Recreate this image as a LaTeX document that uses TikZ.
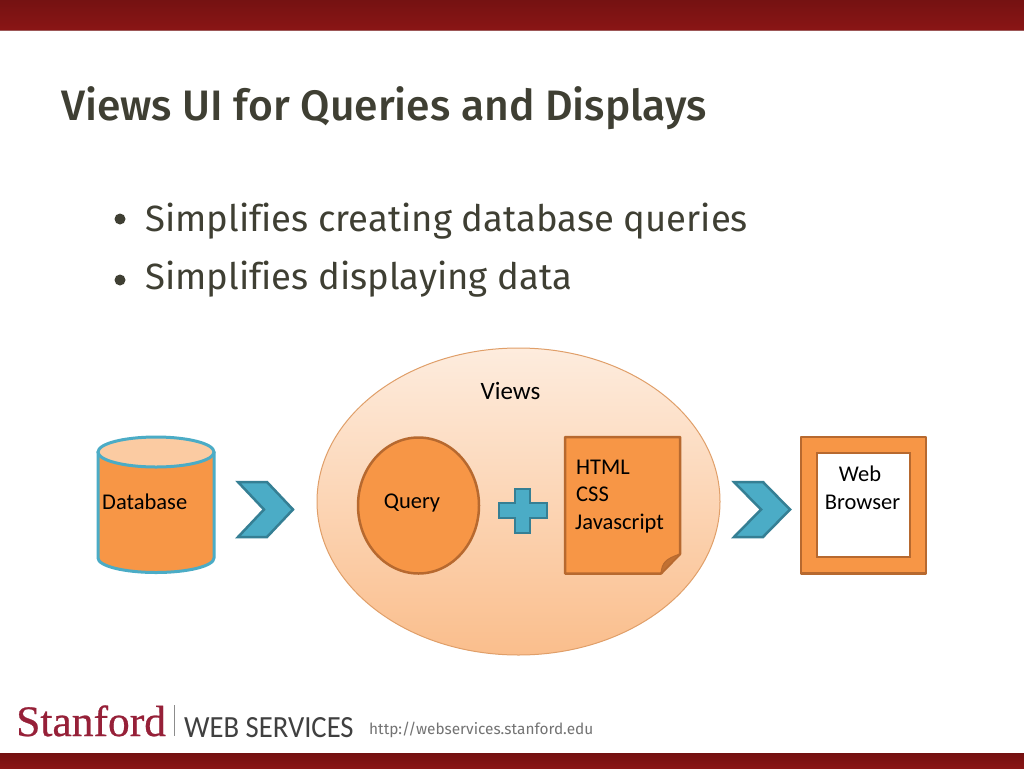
\documentclass[tikz,border=0pt]{standalone}
\usepackage{fontspec}
\setmainfont{Carlito}
\newfontfamily\titlefont{Fira Sans Medium}
\newfontfamily\bodyfont[Ligatures=NoCommon]{Fira Sans}
\newfontfamily\logofont[FakeBold=0.6,FakeStretch=1.0]{Liberation Serif}
\newfontfamily\wsfont[FakeStretch=0.93]{Carlito}
\usetikzlibrary{shadings}
\definecolor{barred}{HTML}{8A1515}
\definecolor{bardark}{HTML}{731010}
\definecolor{titlecol}{HTML}{3F3F33}
\definecolor{orangef}{HTML}{F79646}
\definecolor{oranged}{HTML}{B7692F}
\definecolor{teal}{HTML}{4BACC6}
\definecolor{teald}{HTML}{357F94}
\definecolor{cardinal}{HTML}{962038}
\tikzset{
  x=1pt,y=-1pt,
  lbl/.style={font=\fontsize{22.5}{27}\selectfont,text=black,inner sep=0pt},
  bodytext/.style={font=\bodyfont\fontsize{36.5}{40}\selectfont,text=titlecol,anchor=base west,inner sep=0pt},
  orangebox/.style={fill=orangef,draw=oranged,line width=2.5pt,line join=round},
  chev/.style={fill=teal,draw=teald,line width=2.5pt,line join=miter},
}
\begin{document}
\begin{tikzpicture}
\useasboundingbox (0,0) rectangle (1024,768);
\fill[white] (0,0) rectangle (1024,768);
% bars
\shade[top color=barred!85!black,bottom color=barred] (0,0) rectangle (1024,30);
\fill[bardark!70!white] (0,30) rectangle (1024,31);
\shade[top color=bardark,bottom color=barred] (0,753) rectangle (1024,768);
% title and bullets
\node[font=\titlefont\fontsize{42.6}{48}\selectfont,text=titlecol,anchor=base west,inner sep=0pt] (title) at (61,120) {Views UI for Queries and Displays};
\node[bodytext] (b1) at (145,231) {Simplifies creating database queries};
\node[bodytext] (b2) at (145,289) {Simplifies displaying data};
\fill[titlecol] (120,219) circle (5.5);
\fill[titlecol] (120,280) circle (5.5);
% views ellipse
\path[top color=orangef!18!white,bottom color=orangef!62!white,draw=orangef!75!white!90!black,line width=1pt]
  (518.5,501.5) ellipse [x radius=201.5,y radius=153.5];
\node[lbl,font=\fontsize{25}{27}\selectfont] (views) at (510.5,391) {Views};
% database
\path[orangebox,draw=teal,line width=3pt]
  (98,452) -- (98,558) arc[start angle=180,end angle=0,x radius=58,y radius=14.5] -- (214,452) -- cycle;
\path[fill=orangef!50!white,draw=teal,line width=3pt] (156,452) ellipse [x radius=58,y radius=15];
\node[lbl,anchor=base west] (db) at (102,509) {Database};
% chevrons
\path[chev] (238,482) -- (267,482) -- (293,509.5) -- (267,537) -- (238,537) -- (264,509.5) -- cycle;
\path[chev] (734,482) -- (763,482) -- (790,509.5) -- (763,537) -- (734,537) -- (761,509.5) -- cycle;
% query
\path[orangebox] (418.5,505.5) ellipse [x radius=60.5,y radius=68];
\node[lbl] (query) at (412,503) {Query};
% plus
\path[chev] (515,489) -- (530,489) -- (530,503) -- (547,503) -- (547,518) -- (530,518) -- (530,533) -- (515,533) -- (515,518) -- (499,518) -- (499,503) -- (515,503) -- cycle;
% note
\path[orangebox] (565,437) -- (680,437) -- (680,554) -- (661,573.5) -- (565,573.5) -- cycle;
\path[fill=oranged!85!orangef,draw=oranged,line width=1pt,line join=round] (661,573.5) .. controls (662,563) and (665,559) .. (680,554) -- cycle;
\node[lbl,anchor=base west] (n1) at (576,474) {HTML};
\node[lbl,anchor=base west] (n2) at (576,501) {CSS};
\node[lbl,anchor=base west] (n3) at (575,529) {Javascript};
% browser
\path[orangebox] (801,437) rectangle (926,573.5);
\path[fill=white,draw=oranged,line width=2.5pt] (817,453) rectangle (910,557);
\node[lbl] (web) at (860,474) {Web};
\node[lbl] (browser) at (862.5,502) {Browser};
% footer
\node[font=\logofont\fontsize{43.5}{48}\selectfont,text=cardinal,anchor=base west,inner sep=0pt] (logo) at (16,736) {Stanford};
\fill[black!45] (174,705) rectangle (175,736);
\node[font=\wsfont\fontsize{30.8}{34}\selectfont,text=black!75,anchor=base west,inner sep=0pt] (ws) at (184,737) {WEB SERVICES};
\node[font=\bodyfont\fontsize{15.4}{20}\selectfont,text=black!55,anchor=base west,inner sep=0pt] (url) at (369,734) {http://webservices.stanford.edu};
\end{tikzpicture}
\end{document}
